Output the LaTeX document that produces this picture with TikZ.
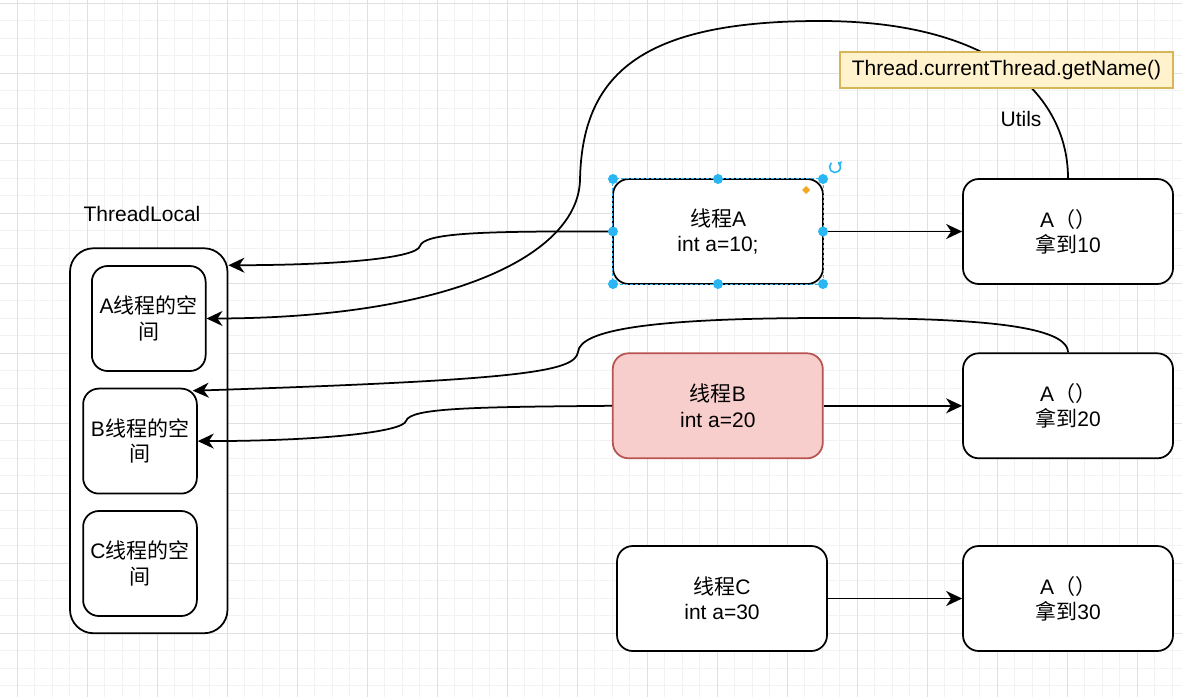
\documentclass[tikz,border=0pt]{standalone}
\usepackage{fontspec}
\setmainfont{Liberation Sans}
\newfontfamily\cjk{Noto Sans CJK SC}
\usetikzlibrary{arrows.meta}
\definecolor{gridminor}{HTML}{F2F2F2}
\definecolor{gridmajor}{HTML}{E0E0E0}
\definecolor{redfill}{HTML}{F8CECC}
\definecolor{redline}{HTML}{B85450}
\definecolor{yfill}{HTML}{FFF2CC}
\definecolor{yline}{HTML}{D6B656}
\definecolor{handle}{HTML}{29B6F2}
\definecolor{orangeh}{HTML}{F5A623}
\begin{document}
\begin{tikzpicture}[x=1pt,y=-1pt,
  base/.style={font=\fontsize{21}{25.2}\selectfont, align=center, inner sep=0pt},
  box/.style={base, draw=black, fill=white, line width=1.75pt, rounded corners=15.75pt,
    minimum width=210pt, minimum height=105pt},
  spacebox/.style={box, minimum width=113.75pt},
  outerbox/.style={draw=black, fill=white, line width=1.75pt, rounded corners=23.6pt,
    minimum width=157.5pt, minimum height=385pt, inner sep=0pt},
  redbox/.style={box, fill=redfill, draw=redline},
  notebox/.style={base, draw=yline, fill=yfill, line width=1.4pt,
    minimum width=333pt, minimum height=36pt},
  txt/.style={base},
  conn/.style={line width=1.75pt, draw=black},
  arr/.style={conn, -{Stealth[length=16pt,width=15pt,inset=5pt]}},
  ]
\useasboundingbox (0,0) rectangle (1182,697);
\fill[white] (0,0) rectangle (1182,697);
% grid
\foreach \i in {0,...,68} \draw[gridminor, line width=1pt] ({-0.1+17.5*\i},0) -- ({-0.1+17.5*\i},697);
\foreach \i in {0,...,40} \draw[gridminor, line width=1pt] (0,{3.4+17.5*\i}) -- (1182,{3.4+17.5*\i});
\foreach \i in {0,...,16} \draw[gridmajor, line width=1pt] ({17.4+70*\i},0) -- ({17.4+70*\i},697);
\foreach \i in {0,...,9} \draw[gridmajor, line width=1pt] (0,{3.4+70*\i}) -- (1182,{3.4+70*\i});

% ThreadLocal container
\node[txt] (tlt) at (142,214) {ThreadLocal};
\node[outerbox] (tl) at (148.75,440.75) {};
\node[spacebox] (as) at (148.75,318.5) {A{\cjk 线程的空}\\{\cjk 间}};
\node[spacebox] (bs) at (140,441.1) {B{\cjk 线程的空}\\{\cjk 间}};
\node[spacebox] (cs) at (140,563.5) {C{\cjk 线程的空}\\{\cjk 间}};

% threads
\node[box] (ta) at (718,231.5) {{\cjk 线程}A\\int a=10;};
\node[redbox] (tb) at (717.8,405.8) {{\cjk 线程}B\\int a=20};
\node[box] (tc) at (722,598.5) {{\cjk 线程}C\\int a=30};

% results
\node[box] (a1) at (1068,231.5) {A{\cjk （）}\\{\cjk 拿到}10};
\node[box] (a2) at (1068,405.8) {A{\cjk （）}\\{\cjk 拿到}20};
\node[box] (a3) at (1068,598.5) {A{\cjk （）}\\{\cjk 拿到}30};

% connectors
\draw[arr] (ta.west) .. controls (480,231) and (424,233) .. (420,246)
  .. controls (417,258) and (340,265) .. ([yshift=175.5pt]tl.east);
\draw[arr] (a1.north) .. controls (1068,100) and (1000,21) .. (820,21)
  .. controls (640,21) and (582,75) .. (580,180)
  .. controls (578,255) and (450,318) .. (as.east);
\draw[arr] (a2.north) .. controls (1068,322) and (950,318) .. (827,318)
  .. controls (650,318) and (580,330) .. (578,352)
  .. controls (575,372) and (520,380) .. ([xshift=-5pt,yshift=-3pt]bs.north east);
\draw[arr] (tb.west) .. controls (470,407) and (410,408) .. (406,421)
  .. controls (403,432) and (320,441) .. (bs.east);
\draw[arr] (ta.east) -- (a1.west);
\draw[arr] (tb.east) -- (a2.west);
\draw[arr] (tc.east) -- (a3.west);

% note and label
\node[notebox] (note) at (1006.5,70) {Thread.currentThread.getName()};
\node[txt] (utils) at (1021,119) {Utils};

% selection handles of thread A
\draw[handle, line width=0.8pt, dash pattern=on 3pt off 2pt] (ta.north west) rectangle (ta.south east);
\foreach \x/\y in {613/179, 718/179, 823/179, 613/231.5, 823/231.5, 613/284, 718/284, 823/284}
  \fill[handle] (\x,\y) circle[radius=5pt];
\fill[orangeh] (806,186) -- (810,190) -- (806,194) -- (802,190) -- cycle;
\draw[handle, line width=1.6pt, -{Triangle[length=3.5pt,width=6pt]}]
  ([shift={(130:5.5pt)}]835,167) arc[start angle=130, end angle=420, radius=5.5pt];
\end{tikzpicture}
\end{document}
